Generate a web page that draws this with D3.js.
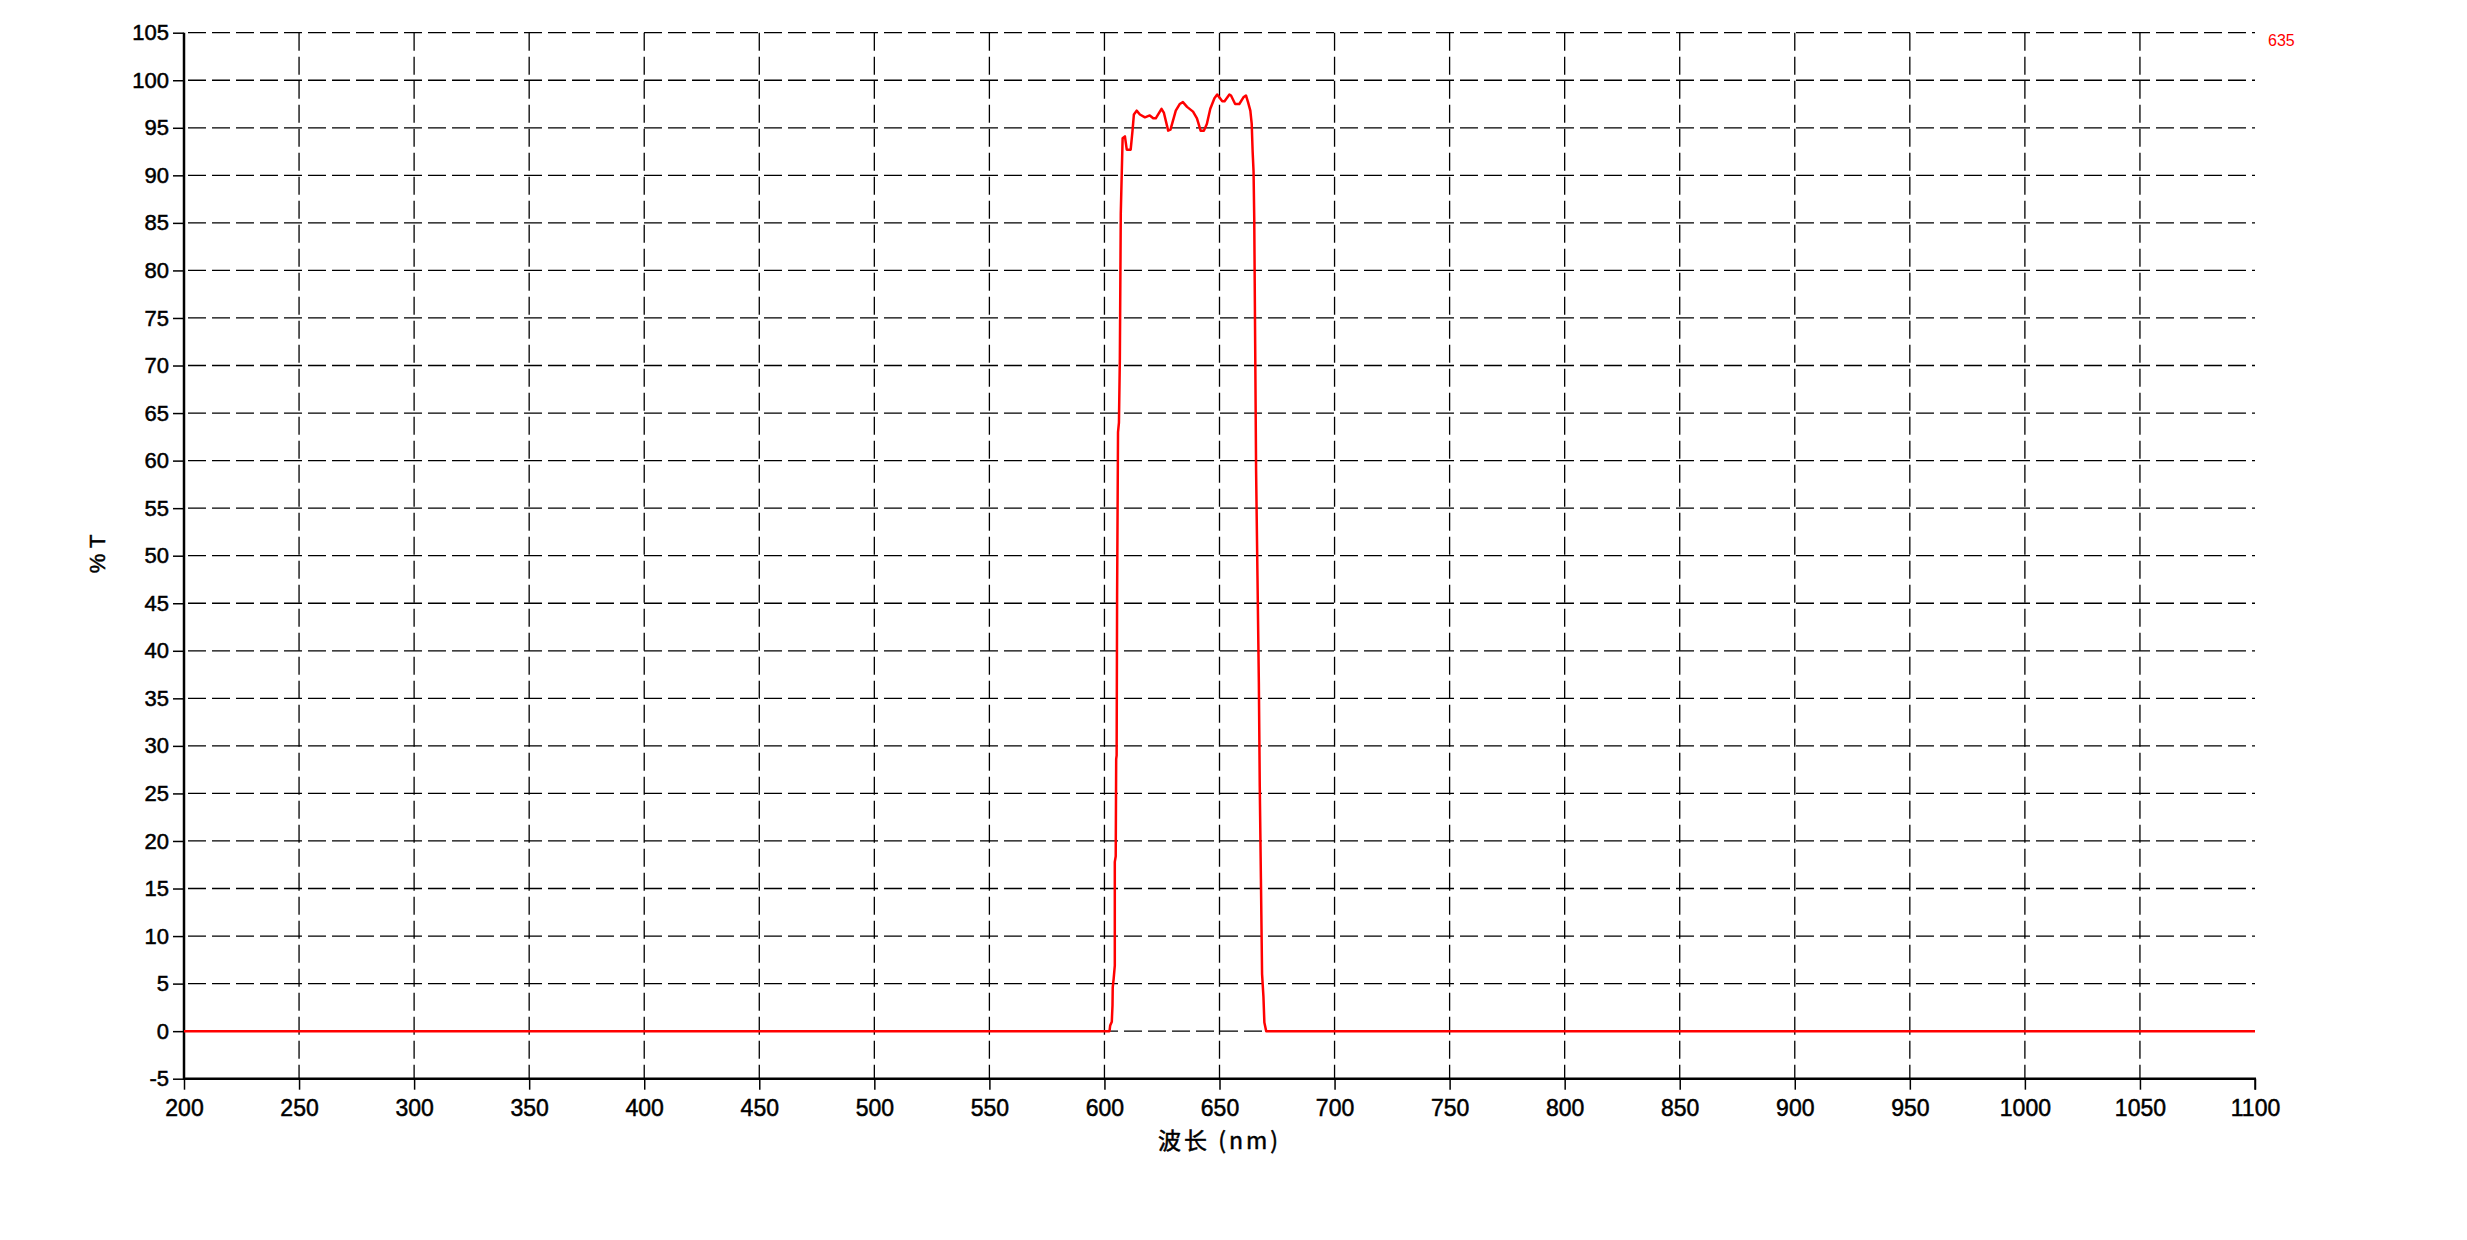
<!DOCTYPE html>
<html><head><meta charset="utf-8">
<script src="https://cdn.jsdelivr.net/npm/d3@7"></script>
<style>
html,body{margin:0;padding:0;background:#fff;}
svg{display:block;}
text{font-family:"Liberation Sans",Arial,sans-serif;}
</style></head>
<body><svg id="c" width="2467" height="1240"></svg>
<script>
// Data: wavelength (nm) and transmittance (%T)
const wavelength = [200,300,400,500,600,602.2,602.5,603.2,603.5,603.6,604.0,604.5,604.5,604.9,605.1,605.3,605.5,605.9,606.3,606.7,606.9,607.1,607.5,607.9,608.9,609.7,611.4,611.8,612.2,612.8,614.0,615.4,617.6,619.7,621.2,622.3,624.8,625.8,627.7,628.7,631.0,632.7,634.1,635.9,638.5,640.2,641.8,643.2,644.5,646.0,647.8,649.0,651.2,652.2,654.3,655.0,656.8,658.6,660.4,661.5,662.4,663.4,664.0,664.4,664.8,665.1,665.5,665.9,666.5,667.1,667.5,668.0,668.5,669.1,669.5,670.3,700,800,900,1000,1100];
const transmittance = [0,0,0,0,0,0,0.6,1.0,2.7,4.6,5.5,6.9,17.8,18.4,28.6,29.0,45.8,63.0,64.0,70.8,78.5,86.0,90.0,93.9,94.1,92.7,92.7,93.7,94.7,96.4,96.8,96.4,96.1,96.3,96.0,96.0,97.0,96.6,94.7,94.8,96.8,97.5,97.7,97.2,96.7,96.0,94.7,94.7,95.4,97.0,98.1,98.5,97.8,97.8,98.5,98.4,97.5,97.5,98.2,98.4,97.7,96.8,95.4,92.5,90.4,85.4,72.3,59.0,47.9,36.7,25.7,16.0,6.0,3.6,0.9,0,0,0,0,0,0];
const xTicks = [200,250,300,350,400,450,500,550,600,650,700,750,800,850,900,950,1000,1050,1100];
const yTicks = [-5,0,5,10,15,20,25,30,35,40,45,50,55,60,65,70,75,80,85,90,95,100,105];
const xTitle = "波长 (nm)";
const yTitle = "% T";
const seriesName = "635";

const svg = d3.select("#c");
const L = 184, R = 2255, T = 32.7, B = 1078.7;
const x = d3.scaleLinear().domain([200,1100]).range([L,R]);
const y = d3.scaleLinear().domain([-5,105]).range([B,T]);

// grid
const g = svg.append("g");
g.selectAll("line.h").data(yTicks.filter(v=>v>-5)).enter().append("line")
  .attr("x1",L).attr("x2",R).attr("y1",d=>y(d)).attr("y2",d=>y(d))
  .attr("stroke","#000").attr("stroke-width",1.3).attr("stroke-dasharray","18,6")
  .attr("stroke-dashoffset",-4);
g.selectAll("line.v").data(xTicks.filter(v=>v>200 && v<1100)).enter().append("line")
  .attr("x1",d=>x(d)).attr("x2",d=>x(d)).attr("y1",T).attr("y2",B)
  .attr("stroke","#000").attr("stroke-width",1.3).attr("stroke-dasharray","18,6");

// axes
const fmt = d => String(d);
const yAxis = d3.axisLeft(y).tickValues(yTicks).tickSize(11).tickPadding(4).tickFormat(fmt);
const xAxis = d3.axisBottom(x).tickValues(xTicks).tickSize(11).tickPadding(7).tickFormat(fmt);
const ya = svg.append("g").attr("transform",`translate(${L},0)`).call(yAxis);
const xa = svg.append("g").attr("transform",`translate(0,${B})`).call(xAxis);
[ya,xa].forEach(a=>{
  a.select(".domain").remove();
  a.selectAll(".tick line").attr("stroke","#000").attr("stroke-width",1.5);
  a.selectAll(".tick text").attr("fill","#000").style("font-size","22px").style("font-weight","normal")
    .style("stroke","#000").style("stroke-width","0.5px");
});
xa.selectAll(".tick text").style("font-size","23px").attr("dy","0.85em");
svg.append("line").attr("x1",L).attr("x2",L).attr("y1",T).attr("y2",B+1).attr("stroke","#000").attr("stroke-width",2.5);
svg.append("line").attr("x1",L-1).attr("x2",R+1).attr("y1",B).attr("y2",B).attr("stroke","#000").attr("stroke-width",2.5);
svg.append("line").attr("x1",R).attr("x2",R).attr("y1",B).attr("y2",B+11).attr("stroke","#000").attr("stroke-width",1.5);

// curve
const data = wavelength.map((w,i)=>[w,transmittance[i]]);
svg.append("path").datum(data)
  .attr("d",d3.line().x(d=>x(d[0])).y(d=>y(d[1])))
  .attr("fill","none").attr("stroke","#ff0000").attr("stroke-width",2.5).attr("stroke-linejoin","round");

// titles
svg.append("text").attr("x",x(650)).attr("y",1149).attr("text-anchor","middle")
  .style("font-family","'Noto Sans CJK SC','Liberation Sans',sans-serif").style("font-size","23px")
  .style("letter-spacing","3px")
  .style("stroke","#000").style("stroke-width","0.5px")
  .text(xTitle);
svg.append("text").attr("transform","translate(105,554) rotate(-90)").attr("text-anchor","middle")
  .style("font-size","22px").style("stroke","#000").style("stroke-width","0.5px").text(yTitle);
svg.append("text").attr("x",2268).attr("y",46).attr("fill","#ff0000")
  .style("font-size","16px").text(seriesName);
</script></body></html>
